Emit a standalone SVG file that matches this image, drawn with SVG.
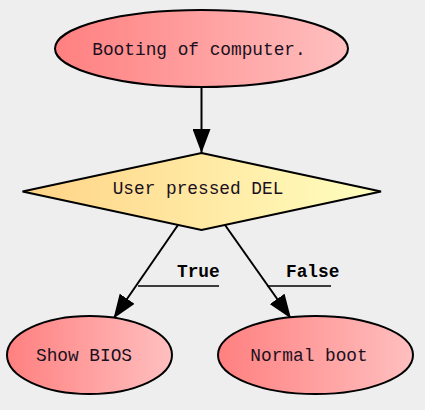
<svg xmlns="http://www.w3.org/2000/svg" width="425" height="410" viewBox="0 0 425 410">
<defs>
<linearGradient id="gRed" x1="0" y1="0" x2="1" y2="0">
<stop offset="0" stop-color="#ff8080"/>
<stop offset="1" stop-color="#ffbfbf"/>
</linearGradient>
<linearGradient id="gYel" x1="0" y1="0" x2="1" y2="0">
<stop offset="0" stop-color="#ffd386"/>
<stop offset="1" stop-color="#ffffc0"/>
</linearGradient>
<marker id="arr" markerUnits="userSpaceOnUse" markerWidth="24" markerHeight="18" refX="24" refY="9" orient="auto">
<path d="M0,0 L24,9 L0,18 z" fill="#000"/>
</marker>
<style>
.shape{stroke:#000;stroke-width:2}
.lbl{font-family:"Liberation Mono",monospace;font-size:17.8px;fill:#1a1020;text-anchor:middle}
.elbl{font-family:"Liberation Mono",monospace;font-size:17.8px;font-weight:bold;fill:#000}
.edge{stroke:#000;stroke-width:2;fill:none}
.ul{stroke:#000;stroke-width:1.6}
</style>
</defs>
<rect width="425" height="410" fill="#eeeeee"/>
<g id="connectors">
<line class="edge" x1="201.5" y1="87" x2="201.5" y2="153" marker-end="url(#arr)"/>
<line class="edge" x1="178" y1="225" x2="113.5" y2="318.5" marker-end="url(#arr)"/>
<line class="edge" x1="225" y1="225" x2="291" y2="318.5" marker-end="url(#arr)"/>
<text class="elbl" x="177" y="277">True</text>
<line class="ul" x1="138" y1="286" x2="219" y2="286"/>
<text class="elbl" x="286" y="277">False</text>
<line class="ul" x1="267" y1="286" x2="331" y2="286"/>
</g>
<g id="boot">
<ellipse class="shape" cx="201.5" cy="48.5" rx="146.5" ry="38.5" fill="url(#gRed)"/>
<text class="lbl" x="199" y="55">Booting of computer.</text>
</g>
<g id="del">
<polygon class="shape" points="201.5,153 381,191.5 201.5,230 22.5,191.5" fill="url(#gYel)"/>
<text class="lbl" x="198" y="194">User pressed DEL</text>
</g>
<g id="bios">
<ellipse class="shape" cx="89.5" cy="355" rx="82.5" ry="39" fill="url(#gRed)"/>
<text class="lbl" x="84" y="361">Show BIOS</text>
</g>
<g id="normal">
<ellipse class="shape" cx="315.5" cy="355" rx="97.5" ry="39" fill="url(#gRed)"/>
<text class="lbl" x="309" y="361">Normal boot</text>
</g>
</svg>
